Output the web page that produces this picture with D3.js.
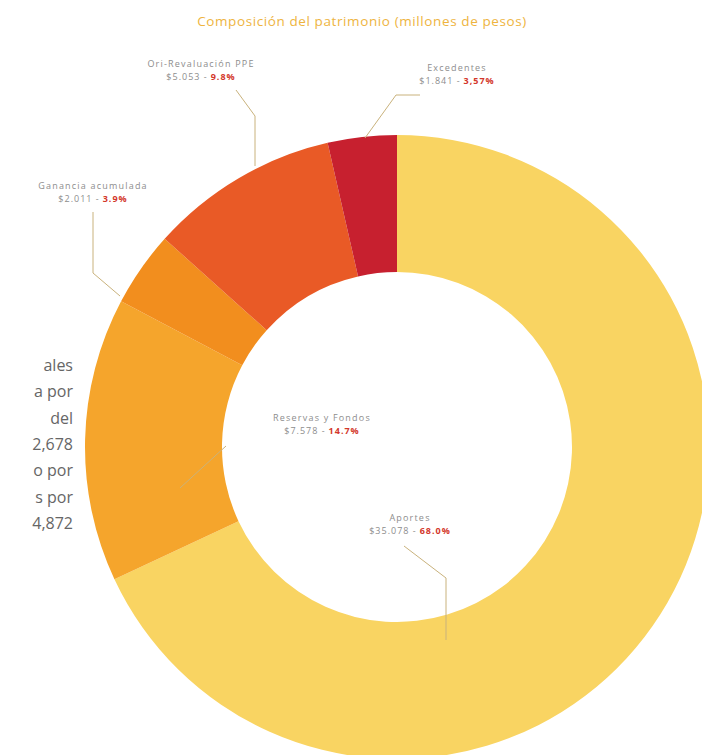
<!DOCTYPE html>
<html lang="es">
<head>
<meta charset="utf-8">
<script src="https://cdn.jsdelivr.net/npm/d3@7"></script>
<style>
  html, body { margin: 0; padding: 0; background: #ffffff; }
  svg { display: block; font-family: "Open Sans", "Lato", sans-serif; }
</style>
</head>
<body>
<svg id="chart" width="702" height="755"></svg>
<script>
// Composición del patrimonio, millones de pesos
const categories = ["Aportes", "Reservas y Fondos", "Ganancia acumulada", "Ori-Revaluación PPE", "Excedentes"];
const values = [35078, 7578, 2011, 5053, 1841];
const colors = ["#f9d462", "#f5a52c", "#f28e1e", "#e95a26", "#c7202f"];
const pctDigits = [1, 1, 1, 1, 2];
const pctSeparator = [".", ".", ".", ".", ","];

// Callout text anchors and leader paths, one per category
const labelPos = [
  { x: 410, y: 521 },
  { x: 322, y: 421 },
  { x: 93,  y: 189 },
  { x: 201, y: 67 },
  { x: 457, y: 71 }
];
const leaders = [
  [[404, 546], [446, 578], [446, 640]],
  [[226, 446], [180, 488]],
  [[93, 212], [93, 273], [120, 296]],
  [[236, 90], [255, 116], [255, 166]],
  [[420, 95], [396, 95], [365, 138]]
];

// Right-hand ends of the body paragraph beside the chart
const sideText = ["ales", "a por", "del", "2,678", "o por", "s por", "4,872"];

const svg = d3.select("#chart");
const cx = 397, cy = 447, outerR = 312, innerR = 175;

const total = d3.sum(values);
const data = categories.map((c, i) => ({ name: c, value: values[i], color: colors[i], i }));

const pie = d3.pie().sort(null).value(d => d.value);
const arc = d3.arc().innerRadius(innerR).outerRadius(outerR);

svg.append("text")
  .attr("x", 362).attr("y", 26)
  .attr("text-anchor", "middle")
  .attr("font-size", 13.5)
  .attr("letter-spacing", 0.6)
  .attr("fill", "#eeb43e")
  .text("Composición del patrimonio (millones de pesos)");

svg.append("g")
  .attr("transform", `translate(${cx},${cy})`)
  .selectAll("path")
  .data(pie(data))
  .join("path")
  .attr("d", arc)
  .attr("fill", d => d.data.color);

// leader lines
const line = d3.line();
svg.append("g")
  .selectAll("path")
  .data(leaders)
  .join("path")
  .attr("d", d => line(d))
  .attr("fill", "none")
  .attr("stroke", "#c9b27c")
  .attr("stroke-width", 1);

const money = d3.formatLocale({ decimal: ",", thousands: ".", grouping: [3], currency: ["$", ""] }).format("$,.0f");
const pctText = d => (d.value / total * 100).toFixed(pctDigits[d.i]).replace(".", pctSeparator[d.i]) + "%";

const labels = svg.append("g").selectAll("g")
  .data(data)
  .join("g")
  .attr("transform", d => `translate(${labelPos[d.i].x},${labelPos[d.i].y})`);

labels.append("text")
  .attr("text-anchor", "middle")
  .attr("font-size", 9)
  .attr("letter-spacing", 1.2)
  .attr("fill", "#8d8d8d")
  .text(d => d.name);

// second line: amount in gray followed by the share in bold red
labels.each(function (d) {
  const g = d3.select(this);
  const amt = g.append("text")
    .attr("y", 13)
    .attr("font-size", 9)
    .attr("letter-spacing", 1)
    .attr("fill", "#8d8d8d")
    .text(money(d.value) + " - ");
  const pct = g.append("text")
    .attr("y", 13)
    .attr("font-size", 9)
    .attr("font-weight", "bold")
    .attr("letter-spacing", 1)
    .attr("fill", "#d3372b")
    .text(pctText(d));
  const wa = amt.node().getComputedTextLength();
  const wp = pct.node().getComputedTextLength();
  const start = -(wa + wp + 3) / 2;
  amt.attr("x", start);
  pct.attr("x", start + wa + 3);
});

svg.append("g")
  .selectAll("text")
  .data(sideText)
  .join("text")
  .attr("x", 73)
  .attr("y", (d, i) => 371 + i * 26.3)
  .attr("text-anchor", "end")
  .attr("font-size", 16)
  .attr("fill", "#666666")
  .text(d => d);
</script>
</body>
</html>
